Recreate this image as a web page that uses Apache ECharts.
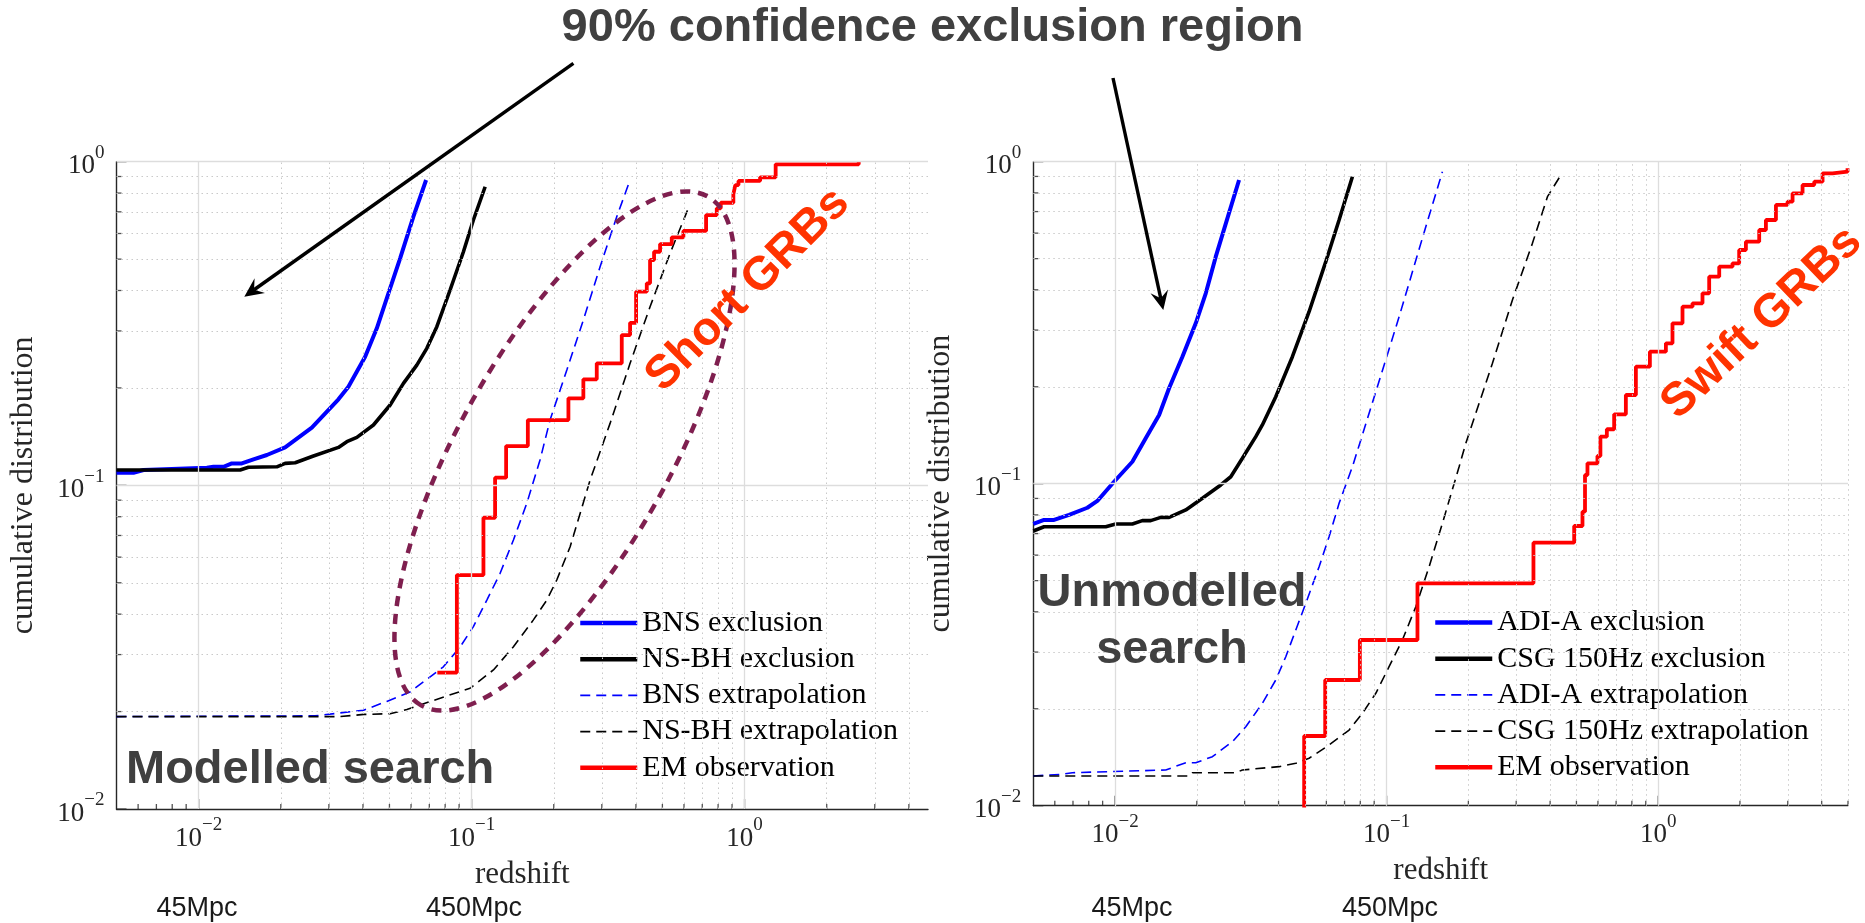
<!DOCTYPE html>
<html>
<head>
<meta charset="utf-8">
<script src="https://cdn.jsdelivr.net/npm/echarts@6/dist/echarts.min.js"></script>
<style>
  html, body { margin: 0; padding: 0; background: #ffffff; }
  #chart { width: 1865px; height: 923px; }
</style>
</head>
<body>
<div id="chart"></div>
<script>
// ---------- data: [redshift, cumulative fraction] ----------
// Modelled search (left panel)
const bnsExclusion = [[0.005,0.1094],[0.00577,0.1094],[0.00628,0.1115],[0.01072,0.1133],[0.01133,0.1141],[0.01233,0.1141],[0.01323,0.1169],[0.01439,0.1169],[0.01588,0.1203],[0.01778,0.1241],[0.02074,0.1310],[0.02598,0.1507],[0.03252,0.1844],[0.03537,0.2017],[0.04073,0.2496],[0.04494,0.3056],[0.04957,0.3921],[0.05471,0.5028],[0.06119,0.6761],[0.06812,0.8779]];
const nsbhExclusion = [[0.005,0.1115],[0.01419,0.1115],[0.01522,0.1137],[0.01934,0.1141],[0.02074,0.1169],[0.02257,0.1174],[0.02633,0.1232],[0.03252,0.1310],[0.03490,0.1364],[0.03798,0.1407],[0.04368,0.1536],[0.05029,0.1771],[0.05626,0.2066],[0.06298,0.2353],[0.06853,0.2651],[0.07457,0.3091],[0.08340,0.4014],[0.09333,0.5270],[0.1015,0.6604],[0.1121,0.8369]];
const bnsExtrapolation = [[0.005,0.0193],[0.0267,0.0194],[0.0402,0.0202],[0.0489,0.0215],[0.0595,0.0230],[0.0788,0.0275],[0.0908,0.0317],[0.1015,0.0366],[0.1137,0.0442],[0.1272,0.0535],[0.1423,0.0678],[0.1593,0.0880],[0.1781,0.1198],[0.1938,0.1591],[0.2233,0.2272],[0.2567,0.3243],[0.2956,0.4737],[0.3402,0.6761],[0.3807,0.8779]];
const nsbhExtrapolation = [[0.005,0.0193],[0.033,0.0193],[0.0403,0.0196],[0.0503,0.0197],[0.0579,0.0203],[0.0767,0.0220],[0.0987,0.0236],[0.1202,0.0269],[0.1423,0.0317],[0.1684,0.0384],[0.1886,0.0442],[0.2051,0.0510],[0.2296,0.0646],[0.2717,0.1038],[0.3216,0.1554],[0.3807,0.2382],[0.4506,0.3563],[0.5334,0.5209],[0.6223,0.7178]];
const shortGrbObserved = [[0.0749,0.0264],[0.0883,0.0528],[0.1105,0.0794],[0.1219,0.1056],[0.1338,0.1322],[0.1607,0.1591],[0.2263,0.1857],[0.2567,0.2126],[0.2874,0.2382],[0.3549,0.2913],[0.3807,0.3179],[0.4005,0.3966],[0.4383,0.4209],[0.4506,0.4969],[0.4661,0.5270],[0.4903,0.5567],[0.5411,0.5838],[0.5969,0.6109],[0.7228,0.6840],[0.791,0.7178],[0.818,0.7468],[0.9099,0.7940],[0.925,0.8470],[0.95,0.8720],[1.14,0.8950],[1.30,0.9817],[2.62,1.0]];

// Unmodelled search (right panel)
const adiExclusion = [[0.005,0.0750],[0.005477,0.0772],[0.005962,0.0772],[0.006772,0.0800],[0.007907,0.0842],[0.008606,0.0884],[0.009915,0.1014],[0.01158,0.1170],[0.01297,0.1384],[0.01453,0.1634],[0.01581,0.1978],[0.0177,0.2480],[0.01982,0.3149],[0.02158,0.3902],[0.02349,0.5070],[0.02592,0.6671],[0.02862,0.8773]];
const csgExclusion = [[0.005,0.0713],[0.005477,0.0735],[0.009242,0.0735],[0.01006,0.0750],[0.01158,0.0750],[0.0126,0.0768],[0.01353,0.0768],[0.01474,0.0786],[0.01581,0.0786],[0.01822,0.0829],[0.02097,0.0901],[0.02451,0.0991],[0.02668,0.1051],[0.02944,0.1199],[0.03298,0.1400],[0.03487,0.1522],[0.03907,0.1863],[0.04498,0.2480],[0.05182,0.3421],[0.05971,0.4892],[0.06683,0.6591],[0.07482,0.8982]];
const adiExtrapolation = [[0.005,0.01237],[0.006398,0.01252],[0.006964,0.01266],[0.01537,0.01291],[0.01822,0.01360],[0.01982,0.01360],[0.02283,0.01420],[0.02704,0.01580],[0.0303,0.01759],[0.03487,0.0208],[0.03907,0.02457],[0.04253,0.02902],[0.0463,0.03513],[0.0504,0.04252],[0.05641,0.05524],[0.06139,0.06844],[0.06683,0.08692],[0.07482,0.1129],[0.08035,0.1367],[0.1112,0.3301],[0.1348,0.5713],[0.1605,0.9310]];
const csgExtrapolation = [[0.005,0.01237],[0.01874,0.01237],[0.01926,0.01266],[0.02784,0.01266],[0.02944,0.01291],[0.04018,0.01322],[0.0463,0.01354],[0.05182,0.01404],[0.06139,0.01543],[0.07277,0.01718],[0.08145,0.01936],[0.09125,0.02234],[0.1021,0.02702],[0.1143,0.0327],[0.1281,0.0415],[0.1434,0.05524],[0.1605,0.07534],[0.1849,0.1129],[0.1957,0.1335],[0.2453,0.2365],[0.2906,0.3720],[0.3443,0.5578],[0.3911,0.7787],[0.4381,0.9092]];
const swiftGrbObserved = [[0.045,0.0083],[0.0497,0.01646],[0.0594,0.02457],[0.0797,0.0327],[0.1299,0.04906],[0.3473,0.06557],[0.4905,0.07389],[0.5263,0.08185],[0.5377,0.1064],[0.549,0.1157],[0.5975,0.1219],[0.6127,0.1400],[0.6471,0.1476],[0.6884,0.1642],[0.7603,0.1886],[0.8277,0.2309],[0.932,0.2570],[1.0675,0.2729],[1.129,0.3149],[1.229,0.3545],[1.338,0.3633],[1.456,0.3902],[1.541,0.4395],[1.678,0.4720],[1.878,0.4836],[1.987,0.5319],[2.104,0.5643],[2.355,0.6136],[2.493,0.6591],[2.714,0.7339],[2.994,0.7514],[3.125,0.7977],[3.401,0.8465],[3.755,0.8669],[4.03,0.9204],[4.385,0.9309],[4.98,0.9539]];

// ---------- axes ----------
const leftZRange = [0.005, 4.7];
const rightZRange = [0.005, 5];
const cdfRange = [0.01, 1];
const tickExponents = [-2, -1, 0];
const majorTicks = [0.01, 0.1, 1];
const minorZTicks = [0.006,0.007,0.008,0.009,0.02,0.03,0.04,0.05,0.06,0.07,0.08,0.09,0.2,0.3,0.4,0.5,0.6,0.7,0.8,0.9,2,3,4,5];
const minorCdfTicks = [0.02,0.03,0.04,0.05,0.06,0.07,0.08,0.09,0.2,0.3,0.4,0.5,0.6,0.7,0.8,0.9];
const distanceLabels = ['45Mpc', '450Mpc'];

const SERIF = '"Liberation Serif", "Times New Roman", serif';
const SANS = '"Liberation Sans", Arial, Helvetica, sans-serif';
const AXIS_COLOR = '#262626';

function powerLabel(v) {
  const lg = Math.log10(v);
  const e = Math.round(lg);
  if (Math.abs(lg - e) > 1e-6 || tickExponents.indexOf(e) < 0) return '';
  return '{b|10}{s|' + (e < 0 ? '\u2212' + (-e) : String(e)) + '}';
}
const labelRich = {
  b: { fontFamily: SERIF, fontSize: 27, color: AXIS_COLOR, lineHeight: 36, verticalAlign: 'bottom' },
  s: { fontFamily: SERIF, fontSize: 19, color: AXIS_COLOR, lineHeight: 16, verticalAlign: 'top' }
};

function xAxisFor(idx, range) {
  return {
    type: 'log', logBase: 10, gridIndex: idx, min: range[0], max: range[1],
    name: 'redshift', nameLocation: 'middle', nameGap: 50,
    nameTextStyle: { fontFamily: SERIF, fontSize: 31, color: AXIS_COLOR },
    axisLine: { show: true, onZero: false, lineStyle: { color: AXIS_COLOR, width: 1.4 } },
    axisTick: { show: false }, splitLine: { show: false }, minorTick: { show: false },
    axisLabel: { margin: 7, formatter: powerLabel, rich: labelRich, showMinLabel: false, showMaxLabel: false }
  };
}
function yAxisFor(idx) {
  return {
    type: 'log', logBase: 10, gridIndex: idx, min: cdfRange[0], max: cdfRange[1],
    name: 'cumulative distribution', nameLocation: 'middle', nameGap: 77, nameRotate: 90,
    nameTextStyle: { fontFamily: SERIF, fontSize: 32, color: AXIS_COLOR },
    axisLine: { show: true, onZero: false, lineStyle: { color: AXIS_COLOR, width: 1.4 } },
    axisTick: { show: false }, splitLine: { show: false }, minorTick: { show: false },
    axisLabel: { margin: 12, formatter: powerLabel, rich: labelRich }
  };
}

// grid lines and inward tick marks for one panel, placed through the panel's axes
function panelFrame(idx, zRange) {
  const zMinor = minorZTicks.filter(v => v >= zRange[0] && v <= zRange[1]);
  const zMajor = majorTicks.filter(v => v >= zRange[0] && v <= zRange[1]);
  const yMin = cdfRange[0], xMin = zRange[0];
  const common = { xAxisIndex: idx, yAxisIndex: idx, type: 'scatter', silent: true, clip: false,
    symbol: 'rect', animation: false, itemStyle: { color: AXIS_COLOR }, emphasis: { disabled: true } };
  const mlCommon = { silent: true, symbol: ['none', 'none'], label: { show: false }, animation: false, emphasis: { disabled: true } };
  return [
    Object.assign({}, common, {
      z: 1, symbolSize: [1.3, 5], symbolOffset: [0, -2.5], data: zMinor.map(v => [v, yMin]),
      markLine: Object.assign({}, mlCommon, {
        lineStyle: { color: '#c9c9c9', width: 1, type: [1.5, 3.5] },
        data: zMinor.map(v => ({ xAxis: v })).concat(minorCdfTicks.map(v => ({ yAxis: v })))
      })
    }),
    Object.assign({}, common, {
      z: 1, symbolSize: [1.3, 10], symbolOffset: [0, -5], data: zMajor.map(v => [v, yMin]),
      markLine: Object.assign({}, mlCommon, {
        lineStyle: { color: '#dddddd', width: 1.3, type: 'solid' },
        data: zMajor.map(v => ({ xAxis: v })).concat([0.1, 1].map(v => ({ yAxis: v })))
      })
    }),
    Object.assign({}, common, { z: 1, symbolSize: [5, 1.3], symbolOffset: [2.5, 0], data: minorCdfTicks.map(v => [xMin, v]) }),
    Object.assign({}, common, { z: 1, symbolSize: [10, 1.3], symbolOffset: [5, 0], data: majorTicks.map(v => [xMin, v]) })
  ];
}

function curve(name, data, idx, color, width, dashed, stepped) {
  return {
    type: 'line', name: name, data: data, xAxisIndex: idx, yAxisIndex: idx,
    showSymbol: false, symbol: 'none', step: stepped ? 'end' : false, silent: true, z: 3,
    animation: false, lineStyle: { color: color, width: width, type: dashed ? [10, 6] : 'solid' },
    itemStyle: { color: color }
  };
}

// legend entries show only the line sample (the point marker is made invisible)
function legendFor(left, top, names) {
  return {
    orient: 'vertical', left: left, top: top, padding: [5, 11, 5, 11], backgroundColor: '#ffffff',
    itemWidth: 57, itemHeight: 14, itemGap: 6.2, selectedMode: false, z: 5,
    textStyle: { fontFamily: SERIF, fontSize: 30, lineHeight: 30, color: '#000000' },
    data: names.map((n, i) => ({
      name: n,
      itemStyle: { opacity: 0 },
      lineStyle: { width: i === 2 || i === 3 ? 1.6 : 4.5 }
    }))
  };
}

// arrow made of a shaft and a notched head, from a start point to a tip
function arrow(x1, y1, x2, y2) {
  const dx = x2 - x1, dy = y2 - y1, len = Math.hypot(dx, dy);
  const ux = dx / len, uy = dy / len, nx = -uy, ny = ux;
  const headLen = 19, notch = 12, half = 9;
  const bx = x2 - ux * headLen, by = y2 - uy * headLen;
  const kx = x2 - ux * notch, ky = y2 - uy * notch;
  return [
    { type: 'line', z: 50, shape: { x1: x1, y1: y1, x2: kx, y2: ky }, style: { stroke: '#000', lineWidth: 3.4 } },
    { type: 'polygon', z: 50, shape: { points: [[x2, y2], [bx + nx * half, by + ny * half], [kx, ky], [bx - nx * half, by - ny * half]] }, style: { fill: '#000' } }
  ];
}

function text(str, x, y, font, fill, rot, align) {
  return { type: 'text', x: x, y: y, rotation: rot || 0, z: 60,
    style: { text: str, font: font, fill: fill, align: align || 'center', verticalAlign: 'middle' } };
}

const chart = echarts.init(document.getElementById('chart'), null, { renderer: 'canvas' });

const option = {
  animation: false,
  backgroundColor: '#ffffff',
  textStyle: { fontFamily: SERIF },
  grid: [
    { left: 116.5, top: 161.7, width: 811.5, height: 647.3, outerBoundsMode: 'none', containLabel: false },
    { left: 1033.3, top: 161.7, width: 814.7, height: 644, outerBoundsMode: 'none', containLabel: false }
  ],
  xAxis: [xAxisFor(0, leftZRange), xAxisFor(1, rightZRange)],
  yAxis: [yAxisFor(0), yAxisFor(1)],
  legend: [
    legendFor(567, 603, ['BNS exclusion', 'NS-BH exclusion', 'BNS extrapolation', 'NS-BH extrapolation', 'EM observation']),
    legendFor(1422, 602.5, ['ADI-A exclusion', 'CSG 150Hz exclusion', 'ADI-A extrapolation', 'CSG 150Hz extrapolation', 'EM observation'])
  ],
  series: [].concat(
    panelFrame(0, leftZRange),
    panelFrame(1, rightZRange),
    [
      curve('BNS extrapolation', bnsExtrapolation, 0, '#0000ff', 1.6, true, false),
      curve('NS-BH extrapolation', nsbhExtrapolation, 0, '#000000', 1.6, true, false),
      curve('BNS exclusion', bnsExclusion, 0, '#0000ff', 4, false, false),
      curve('NS-BH exclusion', nsbhExclusion, 0, '#000000', 3.6, false, false),
      curve('EM observation', shortGrbObserved, 0, '#ff0000', 3.8, false, true),
      curve('ADI-A extrapolation', adiExtrapolation, 1, '#0000ff', 1.6, true, false),
      curve('CSG 150Hz extrapolation', csgExtrapolation, 1, '#000000', 1.6, true, false),
      curve('ADI-A exclusion', adiExclusion, 1, '#0000ff', 4, false, false),
      curve('CSG 150Hz exclusion', csgExclusion, 1, '#000000', 3.6, false, false),
      curve('EM observation', swiftGrbObserved, 1, '#ff0000', 3.8, false, true)
    ]
  ),
  graphic: [].concat(
    [
      text('90% confidence exclusion region', 932.5, 28, 'bold 47px ' + SANS, '#404040'),
      // dotted ellipse around the short-GRB population
      { type: 'ellipse', x: 564.5, y: 451, rotation: 60.6 * Math.PI / 180, z: 55,
        shape: { cx: 0, cy: 0, rx: 292, ry: 105 },
        style: { fill: 'none', stroke: '#7f1f4f', lineWidth: 4.5, lineDash: [10, 8] } },
      text('Short GRBs', 748, 290, 'bold 47px ' + SANS, '#ff3300', Math.PI / 4),
      text('Swift GRBs', 1762, 323, 'bold 47px ' + SANS, '#ff3300', 43.5 * Math.PI / 180),
      text('Modelled search', 126, 770, 'bold 47px ' + SANS, '#404040', 0, 'left'),
      text('Unmodelled', 1172, 593.5, 'bold 47px ' + SANS, '#404040'),
      text('search', 1172, 650, 'bold 47px ' + SANS, '#404040'),
      text(distanceLabels[0], 197, 909, '27px ' + SANS, '#1a1a1a'),
      text(distanceLabels[1], 474, 909, '27px ' + SANS, '#1a1a1a'),
      text(distanceLabels[0], 1132, 909, '27px ' + SANS, '#1a1a1a'),
      text(distanceLabels[1], 1390, 909, '27px ' + SANS, '#1a1a1a')
    ],
    arrow(573.4, 63.3, 244.3, 296.7),
    arrow(1113, 78, 1163.3, 310)
  )
};

chart.setOption(option);
</script>
</body>
</html>
